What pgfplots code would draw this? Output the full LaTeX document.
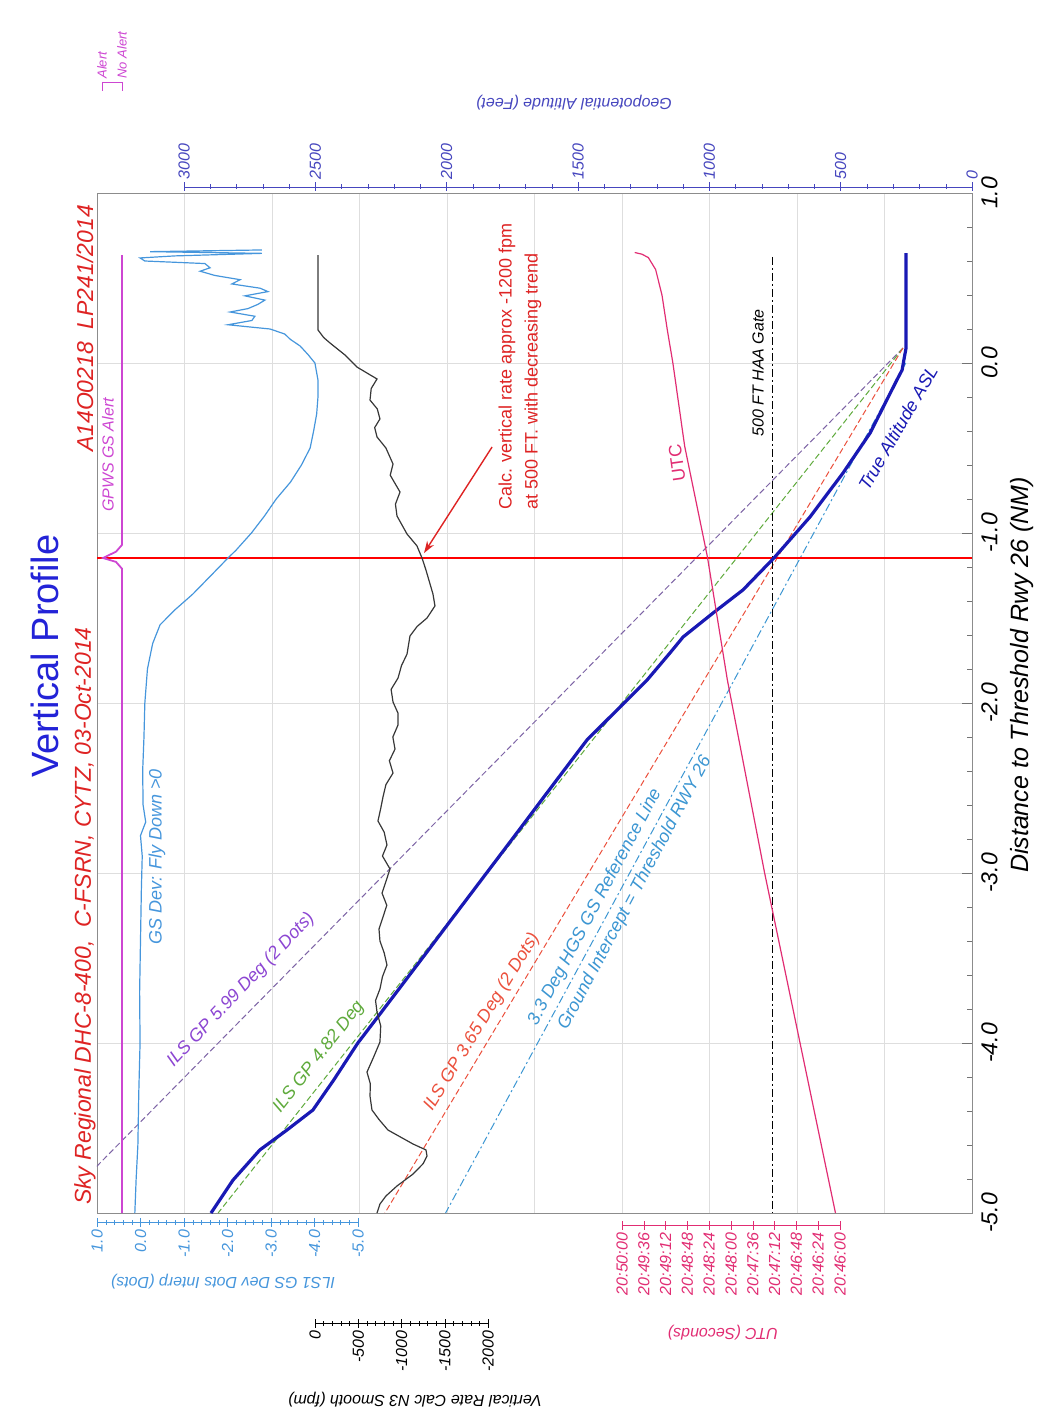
\documentclass[border=0pt]{standalone}
\usepackage{pgfplots}
\pgfplotsset{compat=1.18}
\usepackage{fontspec}
\setmainfont{Liberation Sans}
\usetikzlibrary{arrows.meta}
\definecolor{ttlblue}{RGB}{35,35,215}
\definecolor{redtxt}{RGB}{222,35,35}
\definecolor{gpws}{RGB}{205,70,210}
\definecolor{utc}{RGB}{225,45,115}
\definecolor{gsdev}{RGB}{70,150,220}
\definecolor{altblue}{RGB}{25,25,180}
\definecolor{altaxis}{RGB}{70,70,190}
\definecolor{gpA}{RGB}{125,100,165}
\definecolor{gpAt}{RGB}{140,70,210}
\definecolor{gpB}{RGB}{95,170,60}
\definecolor{gpC}{RGB}{235,80,60}
\definecolor{gpD}{RGB}{60,150,210}
\definecolor{vrate}{RGB}{55,55,55}
\newcommand{\fs}[1]{\fontsize{#1}{#1}\selectfont}
\pgfplotsset{
  overlayax/.style={at={(48.5pt,-606.5pt)}, anchor=south west, width=437.5pt, height=510pt,
    scale only axis, hide axis, ymin=-5, ymax=1, x dir=reverse},
  ruler/.style={scale only axis, height=1pt, ymin=0, ymax=1, axis y line=none, ytick=\empty,
    x dir=reverse, tick align=outside, major tick length=4.5pt, minor tick length=2.5pt,
    xticklabel style={rotate=90, font=\fs{8}\itshape, inner sep=1.5pt}},
}
\begin{document}
\begin{tikzpicture}
\path[use as bounding box] (0pt,0pt) rectangle (518.5pt,-708pt);

% ---------- main axis: altitude vs distance ----------
\begin{axis}[
  at={(48.5pt,-606.5pt)}, anchor=south west,
  width=437.5pt, height=510pt, scale only axis,
  x dir=reverse, xmin=0, xmax=3331, ymin=-5, ymax=1,
  axis line style={draw=black!45},
  xtick={333.1,666.2,999.3,1332.4,1665.5,1998.6,2331.7,2664.8,2997.9},
  xticklabel=\empty, xtick style={draw=none},
  ytick={-5,-4,-3,-2,-1,0,1},
  yticklabels={-5.0,-4.0,-3.0,-2.0,-1.0,0.0,1.0},
  minor y tick num=4,
  ytick pos=right, yticklabel pos=right,
  tick align=inside, major tick length=5pt, minor tick length=2.5pt,
  ytick style={black!55},
  grid=major, major grid style={black!13, line width=0.4pt},
  yticklabel style={rotate=90, anchor=north, font=\fs{11.5}\itshape, inner sep=1pt},
  yticklabel shift=3.5pt,
]
% GP reference lines
\addplot[gpA, line width=0.5pt, dash pattern=on 3pt off 1.5pt] coordinates {(263,0.088) (3507,-5)};
\addplot[gpB, line width=0.5pt, dash pattern=on 3pt off 1.5pt] coordinates {(263,0.088) (2870,-5)};
\addplot[gpC, line width=0.5pt, dash pattern=on 3pt off 1.5pt] coordinates {(263,0.088) (2235,-5)};
\addplot[gpD, line width=0.5pt, dash pattern=on 4pt off 1.5pt on 1pt off 1.5pt] coordinates {(252,0) (2004,-5)};
% 500 ft HAA gate
\addplot[black, line width=0.6pt, dash pattern=on 4pt off 1.5pt on 1pt off 1.5pt] coordinates {(758,0.624) (758,-5)};
% event line
\addplot[red, line width=0.55pt] coordinates {(0,-1.147) (3331,-1.147)};
% True altitude ASL
\addplot[altblue, line width=1.6pt] table[x=alt, y=dist] {
dist alt
0.647 251
0.088 251
0.030 258
-0.041 266
-0.100 286
-0.250 335
-0.412 388
-0.647 491
-0.906 617
-1.147 754
-1.335 872
-1.471 986
-1.612 1100
-1.706 1150
-1.865 1237
-1.982 1313
-2.218 1466
-2.471 1590
-2.765 1733
-3.000 1848
-3.235 1963
-3.512 2098
-3.824 2251
-4.000 2338
-4.218 2430
-4.394 2509
-4.512 2608
-4.629 2711
-4.806 2813
-5.000 2897
};
\draw[redtxt, line width=0.7pt, -{Stealth[length=6pt,width=4pt]}] (axis cs:1827,-0.494) -- (axis cs:2086,-1.118);
\end{axis}

% ---------- GS deviation (dots) ----------
\begin{axis}[overlayax, xmin=-19.115, xmax=1]
\addplot[gsdev, line width=0.6pt] table[x=dev, y=dist] {
dist dev
0.665 -2.79
0.655 -0.22
0.645 -2.79
0.630 -0.79
0.618 0.01
0.600 -0.10
0.585 -1.48
0.560 -1.60
0.540 -1.37
0.515 -1.71
0.490 -2.29
0.465 -2.10
0.440 -2.75
0.420 -2.93
0.395 -2.40
0.370 -2.86
0.345 -2.70
0.320 -2.47
0.300 -2.06
0.275 -2.63
0.250 -2.56
0.225 -2.01
0.200 -2.98
0.170 -3.32
0.140 -3.44
0.100 -3.67
0.050 -3.85
0.000 -4.01
-0.10 -4.08
-0.20 -4.08
-0.30 -4.05
-0.40 -3.98
-0.50 -3.90
-0.60 -3.70
-0.70 -3.45
-0.80 -3.12
-0.90 -2.85
-1.00 -2.55
-1.10 -2.20
-1.15 -2.00
-1.25 -1.62
-1.36 -1.20
-1.45 -0.80
-1.54 -0.45
-1.65 -0.28
-1.80 -0.16
-2.00 -0.10
-2.20 -0.08
-2.40 -0.05
-2.60 -0.06
-2.70 -0.12
-2.78 0.00
-2.90 -0.04
-3.10 -0.02
-3.40 0.00
-3.70 0.02
-4.00 0.01
-4.30 0.04
-4.60 0.06
-4.80 0.10
-5.00 0.13
};
\end{axis}

% ---------- GPWS GS alert (discrete) ----------
\begin{axis}[overlayax, xmin=-42.5, xmax=1.25]
\addplot[gpws, line width=0.9pt] table[x=v, y=dist] {
dist v
0.635 0
-1.07 0
-1.11 0.3
-1.147 0.95
-1.17 0.3
-1.21 0
-5.0 0
};
\end{axis}

% ---------- Vertical rate (fpm) ----------
\begin{axis}[overlayax, xmin=-7595.4, xmax=2520.2]
\addplot[vrate, line width=0.6pt] table[x=vr, y=dist] {
dist vr
0.635 -35
0.194 -35
0.150 -100
0.118 -173
0.047 -347
-0.024 -486
-0.094 -717
-0.15 -650
-0.218 -636
-0.27 -720
-0.329 -751
-0.38 -690
-0.435 -717
-0.50 -820
-0.594 -902
-0.66 -870
-0.759 -983
-0.83 -930
-0.900 -948
-1.006 -1064
-1.076 -1179
-1.147 -1237
-1.218 -1283
-1.30 -1330
-1.359 -1364
-1.429 -1387
-1.500 -1295
-1.55 -1180
-1.606 -1098
-1.712 -1064
-1.78 -1000
-1.853 -960
-1.92 -880
-1.994 -902
-2.06 -960
-2.129 -960
-2.20 -900
-2.271 -925
-2.34 -860
-2.412 -902
-2.48 -820
-2.553 -786
-2.62 -760
-2.694 -728
-2.76 -800
-2.835 -832
-2.90 -780
-2.976 -867
-3.05 -820
-3.118 -775
-3.19 -830
-3.259 -786
-3.33 -740
-3.400 -751
-3.47 -800
-3.541 -832
-3.61 -780
-3.682 -751
-3.75 -700
-3.818 -717
-3.90 -760
-3.994 -751
-4.08 -680
-4.171 -601
-4.24 -640
-4.312 -636
-4.394 -659
-4.45 -740
-4.512 -844
-4.594 -1133
-4.629 -1283
-4.665 -1295
-4.71 -1250
-4.771 -1133
-4.841 -948
-4.90 -820
-4.947 -751
-5.000 -717
};
\end{axis}

% ---------- UTC (seconds after 20:46:00) ----------
\begin{axis}[overlayax, xmin=-145.3, xmax=818.0]
\addplot[utc, line width=0.6pt] table[x=t, y=dist] {
dist t
0.650 226
0.640 218
0.620 211
0.550 203
0.400 196
0.190 190
0.000 184
-0.490 171
-1.140 146
-1.865 124
-3.000 83
-4.000 44
-5.000 5
};
\end{axis}

% ---------- scale rulers ----------
% altitude (top)
\begin{axis}[ruler, at={(92pt,-93.5pt)}, anchor=north west, width=394pt,
  axis x line=top, x axis line style={altaxis,-}, xtick style={altaxis},
  xmin=0, xmax=3000, xtick={0,500,1000,1500,2000,2500,3000}, minor x tick num=4,
  xticklabels={0,500,1000,1500,2000,2500,3000},
  xticklabel style={altaxis, anchor=west}]
\end{axis}
% GS dev dots
\begin{axis}[ruler, at={(48.5pt,-611pt)}, anchor=south west, width=130.5pt,
  axis x line=bottom, x axis line style={gsdev,-}, xtick style={gsdev},
  xmin=-5, xmax=1, xtick={-5,-4,-3,-2,-1,0,1}, minor x tick num=4,
  xticklabels={-5.0,-4.0,-3.0,-2.0,-1.0,0.0,1.0},
  xticklabel style={gsdev, anchor=east}]
\end{axis}
% vertical rate
\begin{axis}[ruler, at={(157.5pt,-661.5pt)}, anchor=south west, width=86.5pt,
  axis x line=bottom, x axis line style={black,-}, xtick style={black},
  xmin=-2000, xmax=0, xtick={-2000,-1500,-1000,-500,0}, minor x tick num=4,
  xticklabels={-2000,-1500,-1000,-500,0},
  xticklabel style={black, anchor=east}]
\end{axis}
% UTC
\begin{axis}[ruler, at={(311pt,-612.5pt)}, anchor=south west, width=109pt,
  axis x line=bottom, x axis line style={utc,-}, xtick style={utc},
  xmin=0, xmax=240, xtick={0,24,48,72,96,120,144,168,192,216,240},
  xticklabels={20:46:00,20:46:24,20:46:48,20:47:12,20:47:36,20:48:00,20:48:24,20:48:48,20:49:12,20:49:36,20:50:00},
  xticklabel style={utc, anchor=east}]
\end{axis}
% GPWS discrete legend
\begin{axis}[ruler, at={(51pt,-41pt)}, anchor=north west, width=10pt,
  axis x line=top, x axis line style={gpws,-}, xtick style={gpws}, tick align=inside,
  xmin=0, xmax=1, xtick={0,1}, xticklabels={No Alert,Alert},
  xticklabel style={gpws, anchor=west, font=\fs{6.5}\itshape}]
\end{axis}

% ---------- text ----------
\begin{scope}[x=0.5pt,y=-0.5pt]
\node[rotate=90, ttlblue, font=\fs{19}] at (45,656) {Vertical Profile};
\node[rotate=90, redtxt, font=\fs{11.5}\itshape, anchor=west] at (85,1212) {Sky Regional DHC-8-400,\ \ C-FSRN, CYTZ, 03-Oct-2014};
\node[rotate=90, redtxt, font=\fs{11.5}\itshape, anchor=east] at (85,198) {A14O0218\ \ LP241/2014};
\node[rotate=90, gpws, font=\fs{8}\itshape] at (108,455) {GPWS GS Alert};
\node[rotate=90, gsdev, font=\fs{9}\itshape] at (157,857) {GS Dev: Fly Down >0};
\node[rotate=46.5, gpAt, font=\fs{9}\itshape] at (241,990) {ILS GP 5.99 Deg (2 Dots)};
\node[rotate=52, gpB, font=\fs{9}\itshape] at (319,1057) {ILS GP 4.82 Deg};
\node[rotate=58.5, gpC, font=\fs{9}\itshape] at (482,1022) {ILS GP 3.65 Deg (2 Dots)};
\node[rotate=62, gpD, font=\fs{9}\itshape] at (595,907) {3.3 Deg HGS GS Reference Line};
\node[rotate=62, gpD, font=\fs{9}\itshape] at (635,893) {Ground Intercept = Threshold RWY 26};
\node[rotate=90, redtxt, font=\fs{9}, anchor=west] at (507,517) {Calc. vertical rate approx -1200 fpm};
\node[rotate=90, redtxt, font=\fs{9}, anchor=west] at (533,517) {at 500 FT. with decreasing trend};
\node[rotate=98, utc, font=\fs{9}] at (677,463) {UTC};
\node[rotate=90, black, font=\fs{8}\itshape] at (758,373) {500 FT HAA Gate};
\node[rotate=60, altblue, font=\fs{9}\itshape] at (898,428) {True Altitude ASL};
\node[rotate=90, black, font=\fs{12.5}\itshape] at (1022,675) {Distance to Threshold Rwy 26 (NM)};
\node[rotate=180, altaxis, font=\fs{8}\itshape] at (574,103) {Geopotential Altitude (Feet)};
\node[rotate=180, gsdev, font=\fs{8}\itshape] at (223,1282) {ILS1 GS Dev Dots Interp (Dots)};
\node[rotate=180, black, font=\fs{8}\itshape] at (415,1400) {Vertical Rate Calc N3 Smooth (fpm)};
\node[rotate=180, utc, font=\fs{8}\itshape] at (723,1333) {UTC (Seconds)};
\end{scope}
\end{tikzpicture}
\end{document}
